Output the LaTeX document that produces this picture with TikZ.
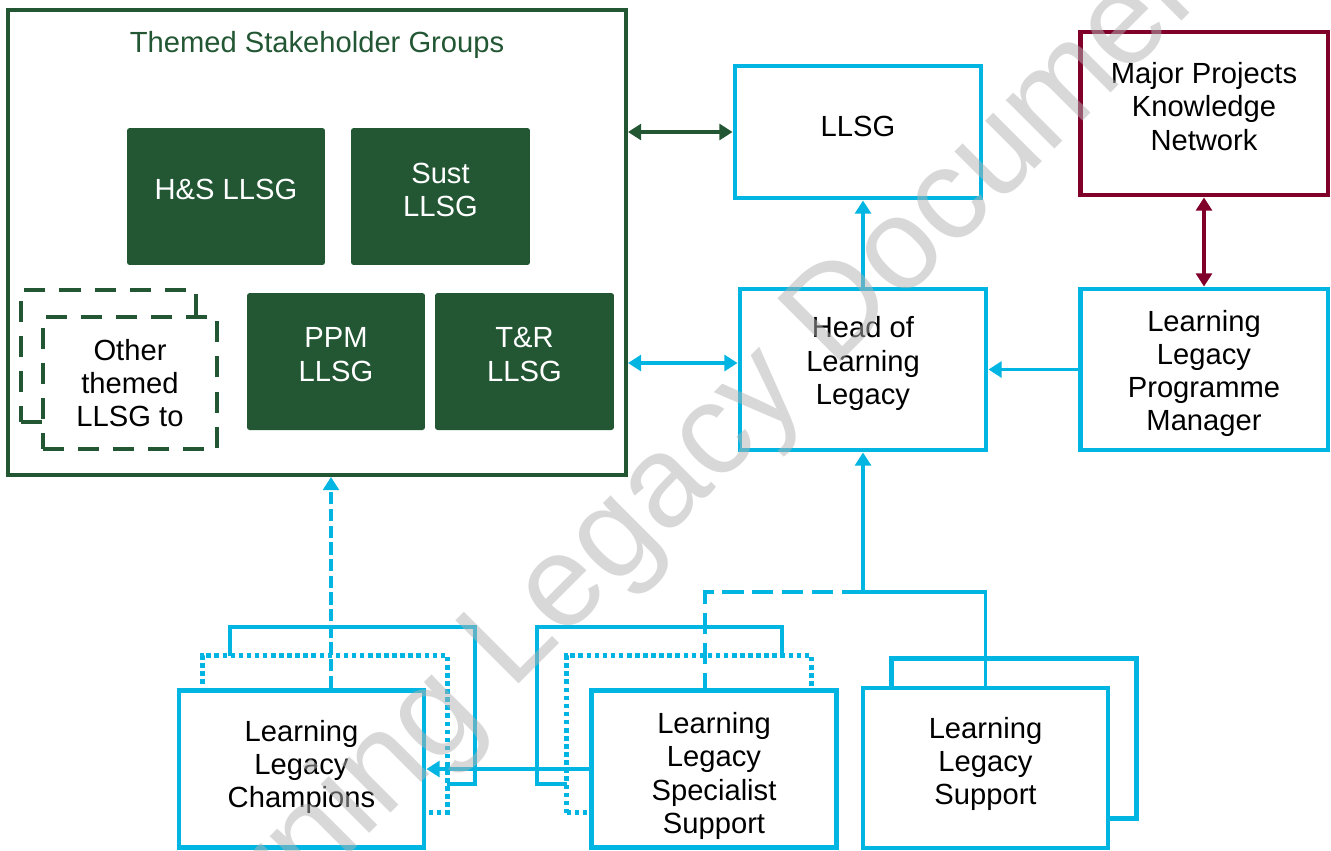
\documentclass[tikz,border=0pt]{standalone}
\usepackage{fontspec}
\setmainfont{Liberation Sans}
\usetikzlibrary{arrows.meta}
\definecolor{tsgreen}{RGB}{35,87,52}
\definecolor{llblue}{RGB}{0,181,226}
\definecolor{mpred}{RGB}{128,0,42}

\begin{document}
\begin{tikzpicture}[x=0.02cm, y=-0.02cm, >={Triangle[length=7.5pt,width=9pt]},
	every node/.style={font=\fontsize{16.6}{18.9}\selectfont, align=center, inner sep=0pt},
	caption/.style 2 args={label={[yshift=#1]center:#2}},
	whitecaption/.style 2 args={label={[yshift=#1, text=white]center:#2}},
	greenblock/.style={fill=tsgreen, rounded corners=1.5pt, minimum height=2.74cm},
	otherbox/.style={draw=tsgreen, line width=2.3pt, dash pattern=on 12pt off 8pt, fill=white, minimum width=3.49cm, minimum height=2.64cm},
	bluebox/.style={draw=llblue, line width=2.8pt, fill=white, minimum width=4.92cm, minimum height=3.22cm},
	stackbox/.style={draw=llblue, line width=2.8pt, fill=white, minimum width=4.9cm, minimum height=3.14cm},
	dottedbox/.style={stackbox, dash pattern=on 2.6pt off 2pt},
	link/.style={draw=llblue, line width=2pt}]
	\useasboundingbox (0,0) rectangle (1331,850);

	\node[draw=tsgreen, line width=2.3pt, minimum width=12.36cm, minimum height=9.3cm] (themed) at (317,242.5) {};
	\node[text=tsgreen] (title) at (317,45) {Themed Stakeholder Groups};
	\node[greenblock, minimum width=3.96cm, whitecaption={0.14cm}{H\&S LLSG}] (hs) at (226,196.5) {};
	\node[greenblock, minimum width=3.58cm, whitecaption={0.13cm}{Sust\\LLSG}] (sust) at (440.5,196.5) {};
	\node[greenblock, minimum width=3.56cm, whitecaption={0.14cm}{PPM\\LLSG}] (ppm) at (336,361.5) {};
	\node[greenblock, minimum width=3.58cm, whitecaption={0.14cm}{T\&R\\LLSG}] (tr) at (524.5,361.5) {};
	\node[otherbox] (otherback) at (108.5,356) {};
	\node[otherbox] (other) at (130,383) {Other\\themed\\LLSG to};

	\node[bluebox, minimum height=2.64cm, caption={0.12cm}{LLSG}] (llsg) at (858,132) {};
	\node[bluebox, caption={0.12cm}{Head of\\Learning\\Legacy}] (head) at (863,369.5) {};
	\node[bluebox, draw=mpred, minimum width=4.96cm, minimum height=3.26cm, caption={0.14cm}{Major Projects\\Knowledge\\Network}] (major) at (1204,113.5) {};
	\node[bluebox, minimum width=4.96cm, caption={-0.08cm}{Learning\\Legacy\\Programme\\Manager}] (manager) at (1204,369.5) {};

	\node[stackbox] (champback) at (352.5,705.5) {};
	\node[dottedbox] (champdots) at (325,734) {};
	\node[stackbox, caption={0.04cm}{Learning\\Legacy\\Champions}] (champ) at (301.5,769) {};
	\node[stackbox] (specback) at (659.5,705.5) {};
	\node[dottedbox] (specdots) at (689,734) {};
	\node[stackbox, caption={-0.14cm}{Learning\\Legacy\\Specialist\\Support}] (spec) at (714,769) {};
	\node[stackbox, minimum height=3.2cm] (supportback) at (1014,738.5) {};
	\node[stackbox, minimum height=3.2cm, caption={0.08cm}{Learning\\Legacy\\Support}] (support) at (985.5,768) {};

	\coordinate (hub) at (863,592);
	\coordinate (headin) at ([yshift=0.13cm]head.west);
	\coordinate (champtop) at ([xshift=0.59cm]champ.north);
	\draw[link, ->] (hub) -- (head.south);
	\draw[link] (hub) -| (support.north);
	\draw[link, dash pattern=on 12pt off 5pt] (hub) -| ([xshift=-0.18cm]spec.north);
	\draw[link, ->] (spec.west) -- (champ.east);
	\draw[link, ->, dash pattern=on 7pt off 2.5pt] (champtop) -- (champtop |- themed.south);
	\draw[link, <->] (headin -| themed.east) -- (headin);
	\draw[link, ->] (manager.west) -- (head.east);
	\draw[link, ->] (head.north) -- (head.north |- llsg.south);
	\draw[draw=tsgreen, line width=2pt, <->] (llsg.west -| themed.east) -- (llsg.west);
	\draw[draw=mpred, line width=2pt, <->] (major.south) -- (manager.north);

	\begin{scope}
		\clip (0,0) rectangle (1331,850);
		\node[rotate=45, text=black!30, opacity=0.5, font=\fontsize{74}{74}\selectfont] (mark) at (667,489) {Learning Legacy Document};
	\end{scope}
\end{tikzpicture}
\end{document}
